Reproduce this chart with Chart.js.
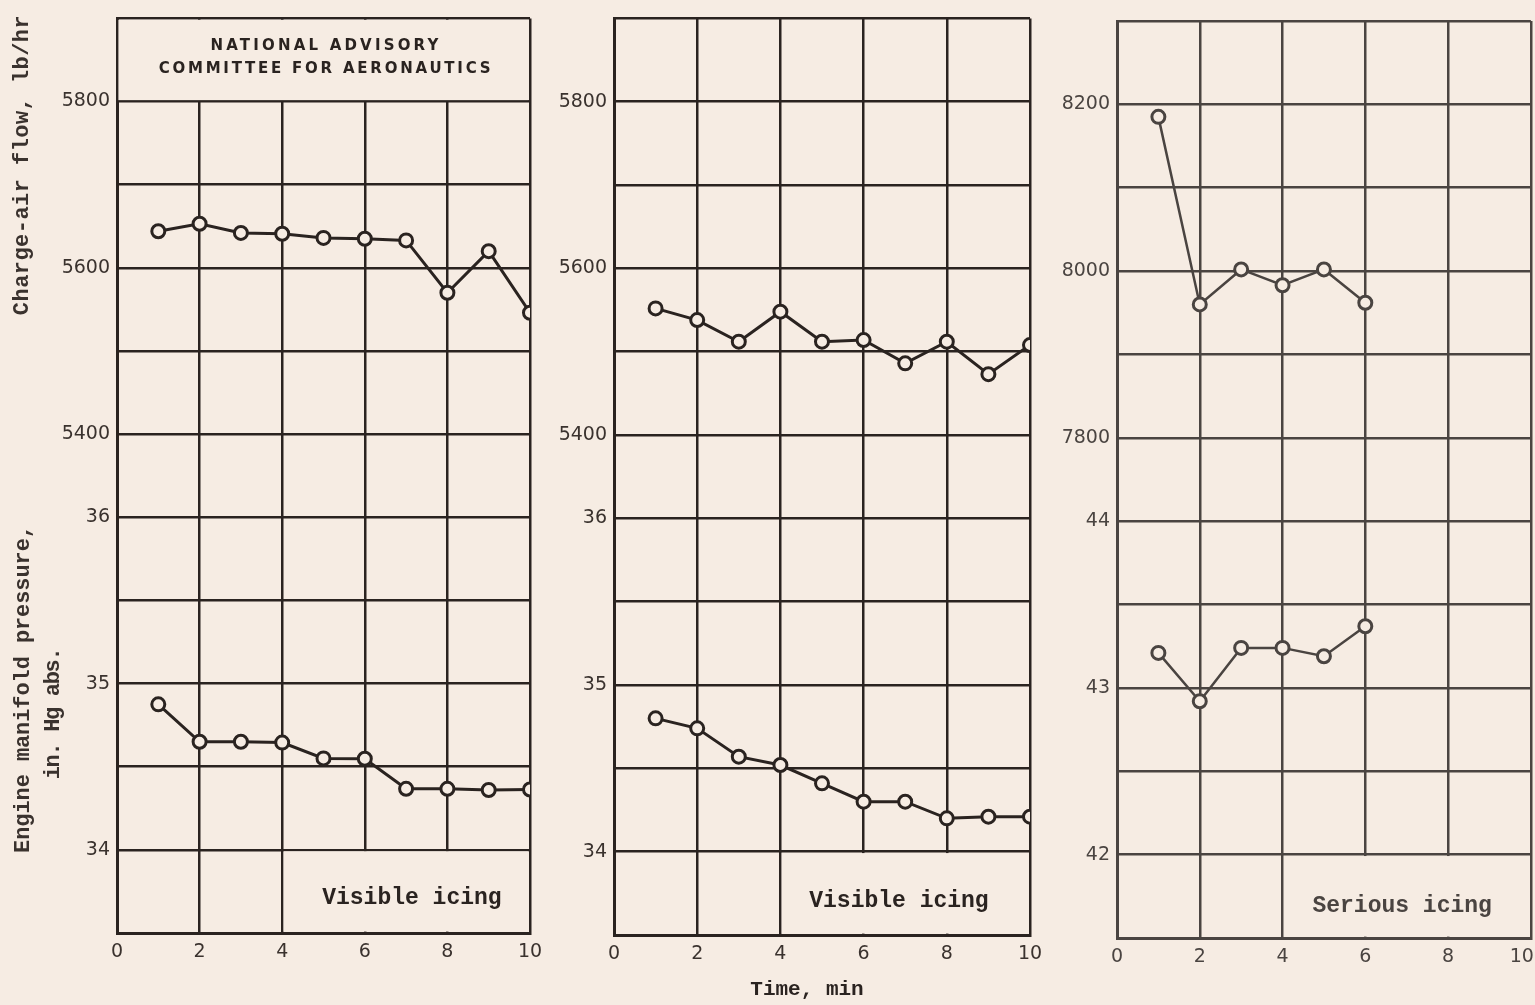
<!DOCTYPE html>
<html>
<head>
<meta charset="utf-8">
<script src="https://cdn.jsdelivr.net/npm/chart.js@4.4.4/dist/chart.umd.min.js"></script>
<style>
  html, body { margin: 0; padding: 0; background: #f6ece3; overflow: hidden; width: 1535px; height: 1005px; }
  canvas { position: absolute; top: 0; }
</style>
</head>
<body>
<canvas id="p1" width="560" height="1005" style="left:0px"></canvas>
<canvas id="p2" width="520" height="1005" style="left:540px"></canvas>
<canvas id="p3" width="520" height="1005" style="left:1040px"></canvas>
<script>
// time after start, min
const minutes = [1, 2, 3, 4, 5, 6, 7, 8, 9, 10];
const minutesSerious = [1, 2, 3, 4, 5, 6];

// charge-air flow, lb/hr  and  manifold pressure, in. Hg abs.
const flowVisibleA = [5644, 5653, 5642, 5641, 5636, 5635, 5633, 5570, 5620, 5546];
const pressVisibleA = [34.875, 34.65, 34.65, 34.645, 34.55, 34.548, 34.367, 34.367, 34.36, 34.363];
const flowVisibleB = [5552, 5538, 5512, 5548, 5512, 5514, 5486, 5512, 5473, 5508];
const pressVisibleB = [34.80, 34.74, 34.57, 34.52, 34.41, 34.30, 34.30, 34.20, 34.21, 34.21];
const flowSerious = [8185, 7960, 8002, 7983, 8002, 7962];
const pressSerious = [43.21, 42.92, 43.24, 43.24, 43.19, 43.37];

// tick labels
const timeTicks = [0, 2, 4, 6, 8, 10];
const flowTicksVisible = [5400, 5600, 5800];
const pressTicksVisible = [34, 35, 36];
const flowTicksSerious = [7800, 8000, 8200];
const pressTicksSerious = [42, 43, 44];

const PAPER = '#f6ece3';
const MONO = '"Liberation Mono", "DejaVu Sans Mono", monospace';
const SANS = '"DejaVu Sans", sans-serif';

// blanks out cells of the grid and writes the notes on the sheet
const paperNotes = {
  id: 'paperNotes',
  beforeDatasetsDraw(chart, args, opts) {
    const ctx = chart.ctx;
    const x = chart.scales.x, yF = chart.scales.yFlow, yP = chart.scales.yPress;
    const m = 1.4;
    ctx.save();
    ctx.fillStyle = PAPER;
    (opts.blank || []).forEach(b => {
      const l = x.getPixelForValue(b.x0) + m, r = x.getPixelForValue(b.x1) - m;
      const t = yF.getPixelForValue(b.f1) + m, btm = yF.getPixelForValue(b.f0) - m;
      ctx.fillRect(l, t, r - l, btm - t);
    });
    (opts.notes || []).forEach(n => {
      const px = n.px !== undefined ? n.px : x.getPixelForValue(n.x);
      const py = n.py !== undefined ? n.py : yP.getPixelForValue(n.p);
      ctx.save();
      ctx.font = n.font;
      ctx.fillStyle = n.color || opts.ink;
      ctx.textAlign = 'center';
      ctx.textBaseline = 'middle';
      if (n.target) {
        ctx.letterSpacing = '0px';
        const w = ctx.measureText(n.text).width;
        ctx.letterSpacing = ((n.target - w) / (n.text.length - 1)).toFixed(2) + 'px';
      }
      ctx.translate(px, py);
      if (n.rotate) ctx.rotate(-Math.PI / 2);
      ctx.fillText(n.text, 0, 0);
      ctx.restore();
    });
    ctx.restore();
  }
};

function makePanel(id, p) {
  const fMin = p.flowMin, fMax = p.flowMax, pMin = p.pressMin, pMax = p.pressMax;
  const dataset = (ys, axis) => ({
    data: p.time.map((t, i) => ({ x: t, y: ys[i] })),
    yAxisID: axis,
    borderColor: p.ink,
    borderWidth: p.lineWidth,
    pointRadius: 6.5,
    pointBorderWidth: 3,
    pointBorderColor: p.ink,
    pointBackgroundColor: PAPER,
    tension: 0,
  });
  return new Chart(document.getElementById(id), {
    type: 'line',
    data: { datasets: [dataset(p.flow, 'yFlow'), dataset(p.press, 'yPress')] },
    plugins: [paperNotes],
    options: {
      responsive: false,
      animation: false,
      layout: { padding: { top: p.padTop, right: p.padRight, left: 0, bottom: 0 } },
      scales: {
        x: {
          type: 'linear', min: 0, max: 10,
          afterBuildTicks: s => { s.ticks = timeTicks.map(v => ({ value: v })); },
          afterFit: s => { s.height = p.xHeight; },
          grid: { color: p.ink, lineWidth: 2.5, drawTicks: false },
          border: { color: p.ink, width: 3 },
          ticks: {
            color: p.text, font: { family: SANS, size: 19 }, padding: 8, maxRotation: 0,
            // the last label sits just inside the sheet edge on the right panel
            callback: v => (v === 10 && p.lastTickInside) ? '10\u00a0\u00a0\u00a0' : String(v),
          },
        },
        yFlow: {
          type: 'linear', position: 'left', min: fMin, max: fMax,
          afterFit: s => { s.width = p.yWidth; },
          grid: { color: p.ink, lineWidth: 2.5, drawTicks: false },
          border: { color: p.ink, width: 3 },
          ticks: {
            stepSize: 100, autoSkip: false, padding: 7, color: p.text,
            font: { family: SANS, size: 19 },
            callback: value => {
              if (p.flowTicks.includes(value)) return String(value);
              const pr = Math.round((pMin + (value - fMin) / (fMax - fMin) * (pMax - pMin)) * 100) / 100;
              return p.pressTicks.includes(pr) ? String(pr) : '';
            },
          },
        },
        yPress: { type: 'linear', display: false, min: pMin, max: pMax },
      },
      plugins: {
        legend: { display: false },
        tooltip: { enabled: false },
        paperNotes: { ink: p.ink, blank: p.blank, notes: p.notes },
      },
    },
  });
}

makePanel('p1', {
  time: minutes, flow: flowVisibleA, press: pressVisibleA,
  flowMin: 4800, flowMax: 5900, pressMin: 33.5, pressMax: 39,
  flowTicks: flowTicksVisible, pressTicks: pressTicksVisible,
  yWidth: 117, xHeight: 72, padTop: 13, padRight: 30,
  ink: '#2a2320', text: '#3a322e', lineWidth: 3,
  blank: [{ x0: 0, x1: 10, f0: 5800, f1: 5900 }, { x0: 4, x1: 10, f0: 4800, f1: 4900 }],
  notes: [
    { text: 'Charge-air flow, lb/hr', px: 22, py: 165, rotate: true, font: 'bold 22px ' + MONO, target: 300, color: '#3a322e' },
    { text: 'Engine manifold pressure,', px: 23, py: 689, rotate: true, font: 'bold 22px ' + MONO, target: 328, color: '#3a322e' },
    { text: 'in. Hg abs.', px: 53, py: 714, rotate: true, font: 'bold 22px ' + MONO, target: 132, color: '#3a322e' },
    { text: 'NATIONAL ADVISORY', px: 326, py: 46, font: 'bold 15px ' + SANS, target: 228 },
    { text: 'COMMITTEE FOR AERONAUTICS', px: 326, py: 69, font: 'bold 15px ' + SANS, target: 332 },
    { text: 'Visible icing', x: 7.14, p: 33.71, font: 'bold 23px ' + MONO },
  ],
});

makePanel('p2', {
  time: minutes, flow: flowVisibleB, press: pressVisibleB,
  flowMin: 4800, flowMax: 5900, pressMin: 33.5, pressMax: 39,
  flowTicks: flowTicksVisible, pressTicks: pressTicksVisible,
  yWidth: 74, xHeight: 70, padTop: 17, padRight: 30,
  ink: '#2a2320', text: '#3a322e', lineWidth: 3,
  blank: [{ x0: 4, x1: 10, f0: 4800, f1: 4900 }],
  notes: [
    { text: 'Visible icing', x: 6.85, p: 33.70, font: 'bold 23px ' + MONO },
    { text: 'Time, min', px: 267, py: 990, font: 'bold 21px ' + MONO },
  ],
});

makePanel('p3', {
  time: minutesSerious, flow: flowSerious, press: pressSerious,
  flowMin: 7200, flowMax: 8300, pressMin: 41.5, pressMax: 47,
  flowTicks: flowTicksSerious, pressTicks: pressTicksSerious,
  yWidth: 77, xHeight: 67, padTop: 21, padRight: 28,
  ink: '#4a4441', text: '#4a4441', lineWidth: 2.5, lastTickInside: true,
  blank: [{ x0: 4, x1: 10, f0: 7200, f1: 7300 }],
  notes: [
    { text: 'Serious icing', x: 6.89, p: 41.69, font: 'bold 23px ' + MONO },
  ],
});
</script>
</body>
</html>
